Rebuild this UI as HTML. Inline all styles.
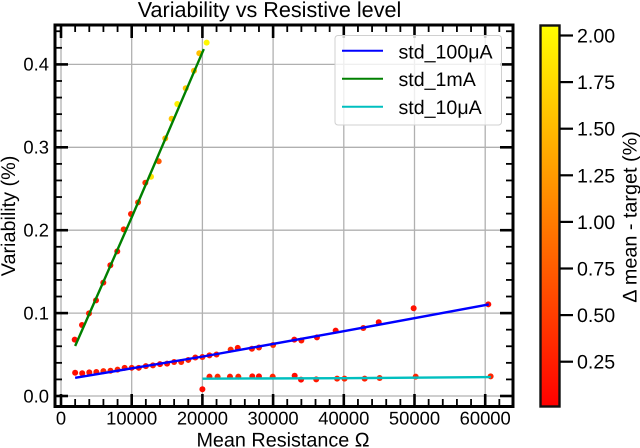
<!DOCTYPE html>
<html>
<head>
<meta charset="utf-8">
<style>
html,body{margin:0;padding:0;background:#fff;width:640px;height:448px;overflow:hidden}
svg{display:block;font-family:"Liberation Sans",sans-serif;fill:#000;text-rendering:geometricPrecision;filter:blur(0.35px)}
</style>
</head>
<body>
<svg id="chart" width="640" height="448" viewBox="0 0 640 448" xmlns="http://www.w3.org/2000/svg">
  <defs>
    <linearGradient id="autumn" x1="0" y1="1" x2="0" y2="0">
      <stop offset="0" stop-color="#ff0000"/>
      <stop offset="1" stop-color="#ffff00"/>
    </linearGradient>
  </defs>
  <g id="grid"></g>
  <g id="points"></g>
  <g id="fits"></g>
  <g id="ticks"></g>
  <rect x="55" y="25" width="458" height="381.5" fill="none" stroke="#000" stroke-width="3"/>

  <text x="269.5" y="17" font-size="21.6" text-anchor="middle">Variability vs Resistive level</text>
  <text x="283" y="446.5" font-size="19.8" text-anchor="middle">Mean Resistance Ω</text>
  <text transform="translate(15,216) rotate(-90)" font-size="19.8" text-anchor="middle">Variability (%)</text>

  <g>
    <rect x="335" y="35.5" width="166.5" height="89.5" rx="3" fill="#fff" fill-opacity="0.8" stroke="#d0d0d0" stroke-width="1"/>
    <line x1="342" x2="383" y1="50.7" y2="50.7" stroke="#0000ff" stroke-width="2"/>
    <text x="398.5" y="58.3" font-size="19.6">std_100μA</text>
    <line x1="342" x2="383" y1="78.7" y2="78.7" stroke="#008000" stroke-width="2"/>
    <text x="398.5" y="86" font-size="19.6">std_1mA</text>
    <line x1="342" x2="383" y1="106.7" y2="106.7" stroke="#00bfbf" stroke-width="2"/>
    <text x="398.5" y="114" font-size="19.6">std_10μA</text>
  </g>

  <g>
    <rect x="540.5" y="25.5" width="19" height="381" fill="url(#autumn)" stroke="#111" stroke-width="2.4"/>
    <g id="cbticks"></g>
    <text transform="translate(636.5,217) rotate(-90)" font-size="19.8" text-anchor="middle">Δ mean - target (%)</text>
  </g>
</svg>
<script>
var xTicks = [0, 10000, 20000, 30000, 40000, 50000, 60000];
var yTicks = [0, 0.1, 0.2, 0.3, 0.4];
var yTickLabels = ['0.0', '0.1', '0.2', '0.3', '0.4'];
var cbTicks = [0.25, 0.5, 0.75, 1, 1.25, 1.5, 1.75, 2];
var cbTickLabels = ['0.25', '0.50', '0.75', '1.00', '1.25', '1.50', '1.75', '2.00'];

var r100uA = [2000,3000,4000,5000,6000,7000,8000,9000,10000,11000,12000,13000,14000,15000,16000,17000,18000,19000,20000,21000,22000,24000,25000,27000,28000,30000,33000,34000,36200,38850,42760,44940,49880,60440];
var v100uA = [0.028,0.0275,0.0285,0.029,0.030,0.0305,0.0318,0.034,0.034,0.034,0.036,0.037,0.0385,0.039,0.041,0.041,0.0435,0.0465,0.047,0.049,0.050,0.056,0.058,0.057,0.0585,0.0615,0.068,0.067,0.0707,0.0788,0.082,0.0889,0.1058,0.1106];
var d100uA = [0.1,0.1,0.15,0.2,0.3,0.25,0.3,0.2,0.25,0.2,0.2,0.25,0.1,0.15,0.2,0.3,0.25,0.15,0.3,0.2,0.2,0.35,0.15,0.25,0.25,0.4,0.1,0.2,0.1,0.1,0.25,0.1,0.15,0.1];

var r1mA = [1940,2970,3960,4950,5985,6980,7960,8870,9900,10900,11930,12730,13820,14750,15650,16450,17640,18810,19560,20600];
var v1mA = [0.068,0.0856,0.0997,0.1154,0.1367,0.1577,0.1745,0.201,0.2195,0.2336,0.2573,0.2645,0.2831,0.3108,0.3345,0.3522,0.3712,0.3924,0.4134,0.4262];
var d1mA = [0.1,0.15,0.25,0.15,0.2,0.15,0.15,0.35,0.25,0.5,0.4,1.85,0.7,1.45,1.6,1.95,1.6,1.5,1.55,2];

var r10uA = [20000,21000,22150,23900,25080,27060,28000,29940,33050,33950,36100,39050,40100,42950,45070,50170,60770];
var v10uA = [0.0081,0.0233,0.0233,0.0233,0.0233,0.0237,0.0237,0.0233,0.0245,0.0197,0.0201,0.0209,0.0209,0.0209,0.0217,0.0233,0.0237];
var d10uA = [0.1,0.2,0.35,0.2,0.3,0.15,0.1,0.3,0.1,0.1,0.2,0.25,0.3,0.25,0.3,0.3,0.3];

var fit100uAx = [2000, 20000, 40000, 60500];
var fit100uAy = [0.022, 0.0475, 0.0782, 0.1104];
var fit1mAx = [2000, 10000, 20200];
var fit1mAy = [0.0603, 0.2155, 0.4185];
var fit10uAx = [20000, 40000, 60800];
var fit10uAy = [0.0209, 0.0215, 0.0229];

var NS = 'http://www.w3.org/2000/svg';
function sx(v) { return 61 + v * 0.00707; }
function sy(v) { return 396 - v * 829; }
function sc(v) { return 361.7 - (v - 0.25) * 186.4; }
function autumn(d) {
  var t = Math.max(0, Math.min(1, (d - 0.009) / (2.057 - 0.009)));
  return 'rgb(255,' + Math.round(255 * t) + ',0)';
}
function make(parent, tag, attrs, text) {
  var el = document.createElementNS(NS, tag);
  for (var k in attrs) el.setAttribute(k, attrs[k]);
  if (text !== undefined) el.textContent = text;
  document.getElementById(parent).appendChild(el);
  return el;
}

xTicks.forEach(function (t) {
  var g = make('grid', 'line', {x1: sx(t), x2: sx(t), y1: 25, y2: 406.5, stroke: '#b0b0b0', 'stroke-width': 1.3});
  
  
  var a = make('ticks', 'line', {x1: sx(t), x2: sx(t), y1: 406.5, y2: 394, stroke: '#000', 'stroke-width': 2.6});
  
  
  var b = make('ticks', 'line', {x1: sx(t), x2: sx(t), y1: 25, y2: 38, stroke: '#000', 'stroke-width': 2.6});
  
  
  var l = make('ticks', 'text', {x: sx(t), y: 424.3, 'font-size': 18.4, 'text-anchor': 'middle'}, String(t));
  
  
});
for (var mx = 2000; mx <= 64000; mx += 2000) {
  if (mx % 10000 === 0) continue;
  var m1 = make('ticks', 'line', {x1: sx(mx), x2: sx(mx), y1: 406.5, y2: 399, stroke: '#000', 'stroke-width': 1.8});
  
  
  var m2 = make('ticks', 'line', {x1: sx(mx), x2: sx(mx), y1: 25, y2: 32, stroke: '#000', 'stroke-width': 1.8});
  
  
}
yTicks.forEach(function (t, i) {
  var g = make('grid', 'line', {x1: 55, x2: 513, y1: sy(t), y2: sy(t), stroke: '#b0b0b0', 'stroke-width': 1.3});
  
  
  var a = make('ticks', 'line', {x1: 55, x2: 68, y1: sy(t), y2: sy(t), stroke: '#000', 'stroke-width': 2.6});
  
  
  var b = make('ticks', 'line', {x1: 500, x2: 513, y1: sy(t), y2: sy(t), stroke: '#000', 'stroke-width': 2.6});
  
  
  var l = make('ticks', 'text', {x: 49, y: sy(t) + 6.3, 'font-size': 18.4, 'text-anchor': 'end'}, yTickLabels[i]);
  
  
});
for (var my = 1; my <= 22; my++) {
  if (my % 5 === 0) continue;
  var yv = my * 0.02;
  var n1 = make('ticks', 'line', {x1: 55, x2: 62, y1: sy(yv), y2: sy(yv), stroke: '#000', 'stroke-width': 1.8});
  
  
  var n2 = make('ticks', 'line', {x1: 506, x2: 513, y1: sy(yv), y2: sy(yv), stroke: '#000', 'stroke-width': 1.8});
  
  
}

function drawPoints(rs, vs, ds, name) {
  rs.forEach(function (r, i) {
    var c = make('points', 'circle', {cx: sx(r), cy: sy(vs[i]), r: 3, fill: autumn(ds[i])});
    
    
  });
}
drawPoints(r100uA, v100uA, d100uA, 'point-100ua');
drawPoints(r1mA, v1mA, d1mA, 'point-1ma');
drawPoints(r10uA, v10uA, d10uA, 'point-10ua');

function linePath(xs, ys) {
  return xs.map(function (x, i) { return sx(x) + ',' + sy(ys[i]); }).join(' ');
}
var line100 = make('fits', 'polyline', {points: linePath(fit100uAx, fit100uAy), fill: 'none', stroke: '#0000ff', 'stroke-width': 2.4});


var line1m = make('fits', 'polyline', {points: linePath(fit1mAx, fit1mAy), fill: 'none', stroke: '#008000', 'stroke-width': 2.4});


var line10 = make('fits', 'polyline', {points: linePath(fit10uAx, fit10uAy), fill: 'none', stroke: '#00bfbf', 'stroke-width': 2.4});



cbTicks.forEach(function (t, i) {
  var a = make('cbticks', 'line', {x1: 560, x2: 573, y1: sc(t), y2: sc(t), stroke: '#000', 'stroke-width': 2.2});
  
  
  var l = make('cbticks', 'text', {x: 577, y: sc(t) + 7, 'font-size': 19.6}, cbTickLabels[i]);
  
  
});
</script>
</body>
</html>
